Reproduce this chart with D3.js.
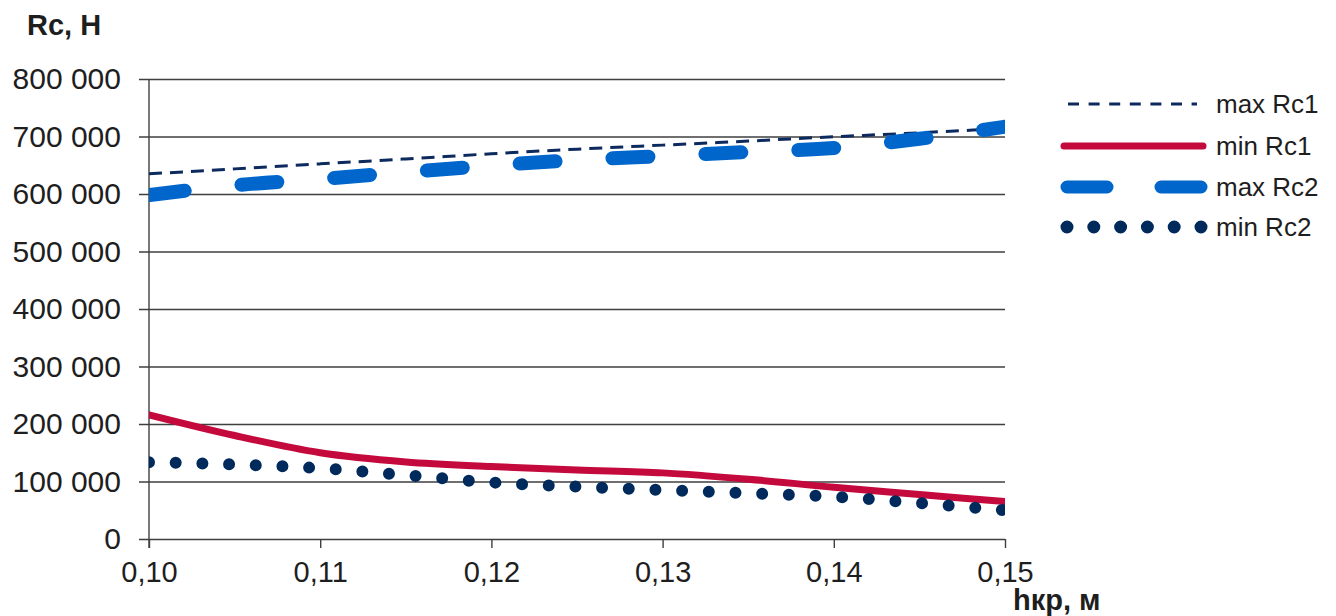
<!DOCTYPE html>
<html>
<head>
<meta charset="utf-8">
<script src="https://cdn.jsdelivr.net/npm/d3@7"></script>
<style>
  html, body { margin: 0; padding: 0; background: #fff; }
  svg { display: block; font-family: "Liberation Sans", Arial, sans-serif; }
</style>
</head>
<body>
<svg id="chart" width="1336" height="616"></svg>
<script>
// Crack height h (m) and the resulting forces Rc (N)
const hValues = [0.100, 0.105, 0.110, 0.115, 0.120, 0.125, 0.130, 0.135, 0.140, 0.145, 0.150];
const maxRc1 = [635000, 643700, 652400, 661000, 670000, 678000, 685000, 692000, 699500, 706500, 714000];
const minRc1 = [216000, 180000, 150000, 134000, 126000, 120000, 115000, 104000, 90000, 77500, 65000];
const maxRc2 = [598000, 615000, 626000, 638000, 649500, 659000, 666000, 673000, 680000, 696000, 717000];
const minRc2 = [133500, 129500, 123000, 111000, 98500, 91000, 85000, 79500, 73500, 62500, 50000];

const xTicks = [0.10, 0.11, 0.12, 0.13, 0.14, 0.15];
const yTicks = [0, 100000, 200000, 300000, 400000, 500000, 600000, 700000, 800000];
const seriesNames = ["max Rc1", "min Rc1", "max Rc2", "min Rc2"];

const locale = d3.formatLocale({ decimal: ",", thousands: " ", grouping: [3], currency: ["", ""] });
const fmtY = locale.format(",.0f");
const fmtX = locale.format(".2f");

const svg = d3.select("#chart");
const plotLeft = 149, plotRight = 1005, plotTop = 79, plotBottom = 539;

const x = d3.scaleLinear().domain([0.10, 0.15]).range([plotLeft, plotRight]);
const y = d3.scaleLinear().domain([0, 800000]).range([plotBottom, plotTop]);

const gridColor = "#3f3f3f";
const textColor = "#1e1e1e";

// horizontal gridlines (starting at the tick marks) with the y axis labels
const yAxis = d3.axisLeft(y).tickValues(yTicks).tickFormat(fmtY).tickSize(0).tickPadding(18);
const gy = svg.append("g").attr("transform", `translate(${plotLeft - 10},0)`).call(yAxis);
gy.select(".domain").remove();
gy.selectAll(".tick line").attr("x1", 0).attr("x2", plotRight - plotLeft + 10)
  .attr("stroke", gridColor).attr("stroke-width", 1.4);
gy.selectAll(".tick text").attr("font-size", 30).attr("fill", textColor).attr("x", -18);

// x axis ticks and labels
const xAxis = d3.axisBottom(x).tickValues(xTicks).tickFormat(fmtX).tickSize(9).tickPadding(13);
const gx = svg.append("g").attr("transform", `translate(0,${plotBottom})`).call(xAxis);
gx.select(".domain").remove();
gx.selectAll(".tick line").attr("stroke", gridColor).attr("stroke-width", 1.4);
gx.selectAll(".tick text").attr("font-size", 29).attr("fill", textColor);

// vertical axis line
svg.append("line").attr("x1", plotLeft).attr("x2", plotLeft).attr("y1", plotTop).attr("y2", plotBottom + 9)
  .attr("stroke", gridColor).attr("stroke-width", 1.4);

// axis titles
svg.append("text").attr("x", 27).attr("y", 35).attr("font-size", 29).attr("font-weight", "bold")
  .attr("fill", textColor).text("Rc, Н");
svg.append("text").attr("x", 1013).attr("y", 610).attr("font-size", 29).attr("font-weight", "bold")
  .attr("fill", textColor).text("hкр, м");

// plot clip region
svg.append("defs").append("clipPath").attr("id", "plot")
  .append("rect").attr("x", plotLeft).attr("y", plotTop - 20)
  .attr("width", plotRight - plotLeft).attr("height", plotBottom - plotTop + 40);

const styles = [
  { color: "#0d2a5e", width: 3, dash: "13 8", cap: "butt" },
  { color: "#c40a3d", width: 7, dash: null, cap: "round" },
  { color: "#0066cc", width: 14, dash: "36 57", cap: "round" },
  { color: "#002a5c", width: 12, dash: "0 26.7", cap: "round" }
];
const seriesValues = [maxRc1, minRc1, maxRc2, minRc2];

const line = d3.line().x(d => x(d[0])).y(d => y(d[1])).curve(d3.curveMonotoneX);

const plot = svg.append("g").attr("clip-path", "url(#plot)");
seriesValues.forEach((vals, i) => {
  const s = styles[i];
  plot.append("path")
    .datum(hValues.map((h, j) => [h, vals[j]]))
    .attr("d", line)
    .attr("fill", "none")
    .attr("stroke", s.color)
    .attr("stroke-width", s.width)
    .attr("stroke-linecap", s.cap)
    .attr("stroke-dasharray", s.dash);
});

// legend: swatch spans and dash patterns per entry
const legendY = [104, 146, 187, 227];
const legendSpan = [[1068, 1197], [1064, 1203], [1067, 1201], [1067, 1201]];
const legendDash = ["11 9.6", null, "40 54", "0 26.8"];
const legendWidth = [3, 7, 13, 13];
const lg = svg.append("g");
seriesNames.forEach((name, i) => {
  const s = styles[i];
  lg.append("line")
    .attr("x1", legendSpan[i][0]).attr("x2", legendSpan[i][1])
    .attr("y1", legendY[i]).attr("y2", legendY[i])
    .attr("stroke", s.color).attr("stroke-width", legendWidth[i])
    .attr("stroke-linecap", s.cap)
    .attr("stroke-dasharray", legendDash[i]);
  lg.append("text").attr("x", 1216).attr("y", legendY[i]).attr("dy", "0.35em")
    .attr("font-size", 26).attr("fill", textColor).text(name);
});
</script>
</body>
</html>
